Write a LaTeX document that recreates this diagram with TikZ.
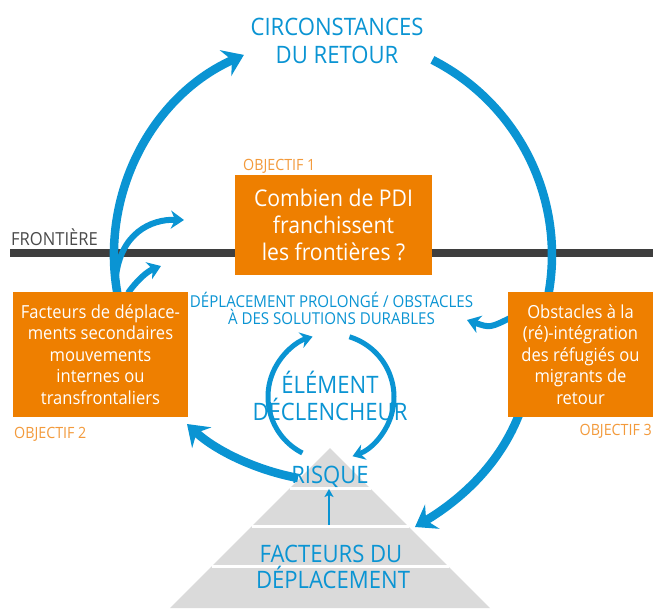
\documentclass[tikz,border=0pt]{standalone}
\usepackage{fontspec}
\setmainfont{Open Sans}[FakeStretch=0.92]
\usetikzlibrary{arrows.meta}

\definecolor{retblue}{HTML}{0A94D3}
\definecolor{objorange}{HTML}{EE7F00}
\definecolor{taborange}{HTML}{F39A3B}
\definecolor{bordergray}{HTML}{3E3E3E}
\definecolor{labelgray}{HTML}{4A4A4A}
\definecolor{pyrgray}{HTML}{DADADA}

\tikzset{
  bigline/.style={retblue, line width=8.5pt},
  bigarrow/.style={bigline, -{Stealth[length=20pt,width=28pt,inset=7pt]}},
  midarrow/.style={retblue, line width=6pt, -{Stealth[length=13pt,width=18pt,inset=4pt]}},
  looparrow/.style={retblue, line width=5pt, -{Stealth[length=12pt,width=16pt,inset=4pt]}},
  objbox/.style={fill=objorange, text=white, align=center, inner sep=0pt},
  objtag/.style={text=taborange, font=\fontsize{15.5}{18}\selectfont, anchor=base west, inner sep=0pt},
  captext/.style={text=retblue, font=\fontsize{24}{29}\selectfont, anchor=base, inner sep=0pt},
  smallcap/.style={text=retblue, font=\fontsize{16.4}{17}\selectfont, anchor=base, inner sep=0pt},
}

\begin{document}
\begin{tikzpicture}[x=1pt,y=1pt]
  \useasboundingbox[fill=white] (0,0) rectangle (655,-608);

  % frontier
  \draw[bordergray, line width=8pt] (10,-253) -- (653,-253);
  \node[anchor=base west, text=labelgray, font=\fontsize{18}{20}\selectfont, inner sep=0pt] (frontiere) at (11,-245) {FRONTIÈRE};

  % pyramid
  \fill[pyrgray] (330,-448) -- (170,-608) -- (490,-608) -- cycle;
  \draw[white, line width=3.5pt] (289.5,-488.5) -- (370.5,-488.5);
  \draw[white, line width=3.5pt] (251.5,-526.5) -- (408.5,-526.5);
  \draw[white, line width=3.5pt] (211.5,-566.5) -- (448.5,-566.5);

  % big return circle
  \coordinate (lstart) at (117.3,-293);
  \coordinate (rstart) at (432.4,-59.9);
  \draw[bigarrow] (lstart) arc[start angle=190, end angle=114, radius=219];
  \draw[bigline] (rstart) arc[start angle=63, end angle=-12, radius=219];

  % secondary movements
  \coordinate (splitA) at (116,-276);
  \coordinate (tipA) at (184,-220);
  \coordinate (splitB) at (128,-293);
  \coordinate (tipB) at (161,-266);
  \draw[midarrow] (splitA) .. controls (121,-234) and (150,-219) .. (tipA);
  \draw[midarrow] (splitB) .. controls (138,-279) and (148,-271) .. (tipB);

  % hook back to protracted displacement
  \coordinate (hookstart) at (512,-317);
  \coordinate (hookend) at (467,-320);
  \draw[midarrow] (hookstart) .. controls (490,-328) .. (hookend);

  % from risk / towards the pyramid
  \coordinate (riskleft) at (298,-478);
  \coordinate (lefttip) at (187,-424);
  \draw[bigarrow] (riskleft) .. controls (255,-470) and (215,-450) .. (lefttip);
  \coordinate (rightfoot) at (520,-412);
  \coordinate (righttip) at (415,-527);
  \draw[bigarrow] (rightfoot) .. controls (500,-465) and (460,-500) .. (righttip);

  % trigger loop
  \coordinate (loopL) at (302.4,-453);
  \coordinate (loopR) at (349.4,-336.8);
  \draw[looparrow] (loopL) arc[start angle=243, end angle=107, radius=63];
  \draw[looparrow] (loopR) arc[start angle=73, end angle=-70, radius=63];

  % pyramid arrow
  \coordinate (factup) at (329,-525);
  \coordinate (risklow) at (329,-489);
  \draw[retblue, line width=2.5pt, -{Stealth[length=8pt,width=9pt,inset=2pt]}] (factup) -- (risklow);

  % boxes
  \node[objbox, minimum width=197pt, minimum height=100pt, font=\fontsize{23}{27}\selectfont] (pdi) at (333.5,-225) {Combien de PDI\\franchissent\\les frontières ?};
  \node[objbox, minimum width=175pt, minimum height=125pt, font=\fontsize{18}{21.5}\selectfont] (facteurs) at (100.5,-354.5) {Facteurs de déplace-\\ments secondaires\\mouvements\\internes ou\\transfrontaliers};
  \node[objbox, minimum width=145pt, minimum height=125pt, font=\fontsize{18}{21.5}\selectfont] (obstacles) at (580.5,-354.5) {Obstacles à la\\(ré)-intégration\\des réfugiés ou\\migrants de\\retour};
  \node[objtag] (obj1) at (243,-170) {OBJECTIF 1};
  \node[objtag] (obj2) at (14,-438) {OBJECTIF 2};
  \node[objtag, anchor=base east] (obj3) at (652,-435) {OBJECTIF 3};

  % blue labels
  \node[captext] (circ) at (337,-35) {CIRCONSTANCES};
  \node[captext] (retour) at (337,-63) {DU RETOUR};
  \node[smallcap] (prolonge) at (331.5,-307) {DÉPLACEMENT PROLONGÉ / OBSTACLES};
  \node[smallcap] (durables) at (331.5,-324) {À DES SOLUTIONS DURABLES};
  \node[captext] (element) at (330,-393) {ÉLÉMENT};
  \node[captext] (declencheur) at (330,-420) {DÉCLENCHEUR};
  \node[captext] (risque) at (330,-483) {RISQUE};
  \node[captext] (facteursdu) at (331,-562) {FACTEURS DU};
  \node[captext] (deplacement) at (333,-588) {DÉPLACEMENT};
\end{tikzpicture}
\end{document}
